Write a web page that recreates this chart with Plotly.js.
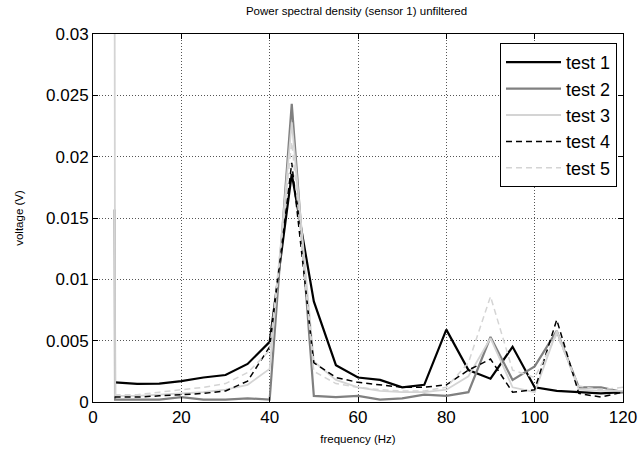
<!DOCTYPE html>
<html>
<head>
<meta charset="utf-8">
<script src="https://cdn.plot.ly/plotly-3.0.1.min.js"></script>
<style>html,body{margin:0;padding:0;background:#fff}#chart{width:640px;height:451px}</style>
</head>
<body>
<div id="chart"></div>
<script>
var freq = [4.9, 5, 10, 15, 20, 25, 30, 35, 40, 45, 50, 55, 60, 65, 70, 75, 80, 85, 90, 95, 100, 105, 110, 115, 120];
var test1 = [0.0016, 0.0016, 0.00147, 0.0015, 0.0017, 0.002, 0.0022, 0.0031, 0.0049, 0.0186, 0.0082, 0.003, 0.002, 0.0018, 0.0012, 0.0014, 0.0059, 0.0026, 0.0019, 0.0045, 0.0012, 0.0009, 0.0008, 0.0007, 0.0008];
var test2 = [0.0157, 0.0002, 0.0002, 0.0002, 0.0004, 0.0002, 0.0002, 0.0003, 0.0002, 0.0243, 0.0005, 0.0004, 0.0005, 0.0002, 0.0003, 0.0006, 0.0005, 0.0008, 0.0053, 0.0018, 0.0029, 0.0058, 0.0012, 0.0012, 0.0008];
var test3 = [0.034, 0.0005, 0.0005, 0.0006, 0.0007, 0.0008, 0.001, 0.0014, 0.0027, 0.0228, 0.0033, 0.0018, 0.0012, 0.0009, 0.0008, 0.0008, 0.001, 0.0021, 0.0052, 0.0012, 0.0008, 0.0058, 0.001, 0.0009, 0.0009];
var test4 = [0.0004, 0.0004, 0.0004, 0.0005, 0.0006, 0.0007, 0.0009, 0.0017, 0.0045, 0.0195, 0.0032, 0.002, 0.0016, 0.0014, 0.0012, 0.0012, 0.0014, 0.0026, 0.0035, 0.0008, 0.001, 0.0067, 0.0007, 0.0004, 0.0008];
var test5 = [0.0006, 0.0006, 0.0006, 0.0008, 0.001, 0.0012, 0.0015, 0.0024, 0.0042, 0.0212, 0.0025, 0.0015, 0.0012, 0.001, 0.0009, 0.0009, 0.0012, 0.0032, 0.0086, 0.0026, 0.002, 0.0055, 0.0013, 0.001, 0.0012];
var names = ["test 1", "test 2", "test 3", "test 4", "test 5"];
var xTicks = [0, 20, 40, 60, 80, 100, 120];
var yTicks = [0, 0.005, 0.01, 0.015, 0.02, 0.025, 0.03];
var yTickText = ["0", "0.005", "0.01", "0.015", "0.02", "0.025", "0.03"];

var series = [test1, test2, test3, test4, test5];
var styles = [
  {color: "#000000", width: 2.2, dash: "solid"},
  {color: "#808080", width: 2.2, dash: "solid"},
  {color: "#d4d4d4", width: 1.8, dash: "solid"},
  {color: "#000000", width: 1.5, dash: "6px,4px"},
  {color: "#d4d4d4", width: 1.5, dash: "6px,4px"}
];
var traces = series.map(function(s, i){
  return {x: freq, y: s, type: "scatter", mode: "lines", name: names[i], legendgroup: "g" + i, line: styles[i]};
});

var FONT = "Liberation Sans, Arial, sans-serif";
var axisCommon = {
  showline: true, linecolor: "#000", linewidth: 1, mirror: "ticks",
  ticks: "inside", ticklen: 5, tickcolor: "#000",
  showgrid: true, gridcolor: "#555", griddash: "1px,2px", gridwidth: 1,
  zeroline: false,
  tickfont: {family: FONT, size: 17, color: "#000"}
};

var layout = {
  width: 640, height: 451,
  margin: {l: 93, r: 17, t: 34, b: 49},
  paper_bgcolor: "#fff", plot_bgcolor: "#fff",
  showlegend: true,
  title: {text: "Power spectral density (sensor 1) unfiltered", x: 0.557, xanchor: "center", y: 0.985, yanchor: "top",
          font: {family: FONT, size: 11.5, color: "#000"}},
  xaxis: Object.assign({}, axisCommon, {range: [0, 120], tickvals: xTicks,
          title: {text: "frequency (Hz)", standoff: 8, font: {family: FONT, size: 11.5, color: "#000"}}}),
  yaxis: Object.assign({}, axisCommon, {range: [0, 0.03], tickvals: yTicks, ticktext: yTickText,
          title: {text: "voltage (V)", standoff: 20, font: {family: FONT, size: 11.5, color: "#000"}}}),
  legend: {x: 0.9887, xanchor: "right", y: 0.9755, yanchor: "top", bgcolor: "#fff", bordercolor: "#000", borderwidth: 1,
           font: {family: FONT, size: 18, color: "#000"}, tracegroupgap: 2, itemwidth: 55, traceorder: "normal"}
};

Plotly.newPlot("chart", traces, layout, {displayModeBar: false, staticPlot: true});
</script>
</body>
</html>
